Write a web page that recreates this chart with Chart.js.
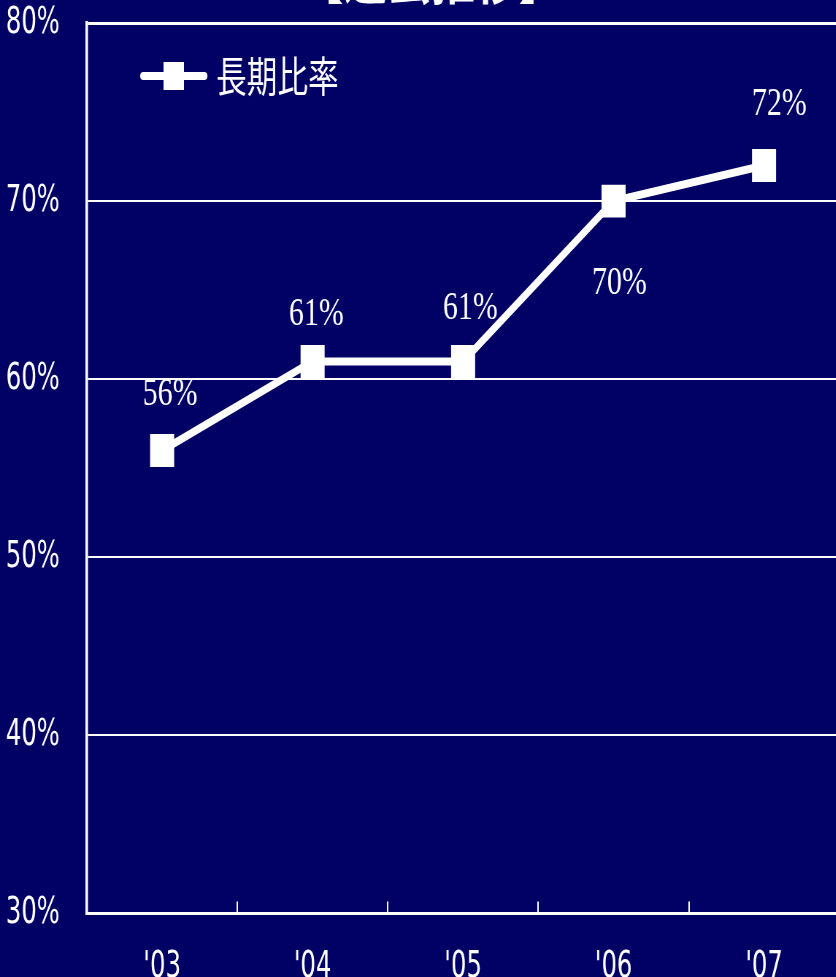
<!DOCTYPE html>
<html lang="ja">
<head>
<meta charset="utf-8">
<title>長期比率</title>
<script src="https://cdn.jsdelivr.net/npm/chart.js@4/dist/chart.umd.min.js"></script>
<style>
  html, body { margin: 0; padding: 0; background: #010064; overflow: hidden; width: 836px; height: 977px; }
  /* chart is drawn wide and squeezed horizontally, like the old slide it comes from */
  #wrap { position: absolute; left: 0; top: -60px; width: 1173px; height: 1102px; transform: scaleX(0.73); transform-origin: 0 0; }
</style>
</head>
<body>
<div id="wrap"><canvas id="ratioChart"></canvas></div>
<script>
const years = ["'03", "'04", "'05", "'06", "'07"];
const longRatio = [56, 61, 61, 70, 72];
const yTicks = [30, 40, 50, 60, 70, 80];

const navy = '#010064';
const narrow = "'DejaVu Sans Condensed', 'Liberation Sans Narrow', sans-serif";

// value labels sit above the markers, except '06 which goes under the line
const labelShift = [
    { dx: 11, dy: -56 },
    { dx: 5, dy: -47 },
    { dx: 10, dy: -53 },
    { dx: 8, dy: 82 },
    { dx: 21, dy: -61 }
];

// legend symbol: line with a square marker in the middle
function legendSymbol() {
    const c = document.createElement('canvas');
    c.width = 142;
    c.height = 40;
    const g = c.getContext('2d');
    const x0 = 142 - 92;
    g.strokeStyle = '#fff';
    g.lineWidth = 8;
    g.lineCap = 'round';
    g.beginPath();
    g.moveTo(x0 + 4, 20);
    g.lineTo(142 - 4, 20);
    g.stroke();
    g.fillStyle = '#fff';
    g.fillRect(x0 + 46 - 14, 6, 28, 28);
    return c;
}

const bgPlugin = {
    id: 'bg',
    beforeDraw(chart) {
        const c = chart.ctx;
        c.save();
        c.fillStyle = navy;
        c.fillRect(0, 0, chart.width, chart.height);
        c.restore();
    }
};

// the chartArea legend comes back with top = 0, pin it to the plot's top-left
const legendInside = {
    id: 'legendInside',
    afterLayout(chart) {
        const lg = chart.legend;
        if (!lg) return;
        const a = chart.chartArea;
        const w = lg.width, h = lg.height;
        lg.left = a.left;
        lg.top = a.top;
        lg.right = a.left + w;
        lg.bottom = a.top + h;
    }
};

const valueLabels = {
    id: 'valueLabels',
    afterDatasetsDraw(chart) {
        const c = chart.ctx;
        const meta = chart.getDatasetMeta(0);
        c.save();
        c.font = "41px 'Liberation Serif', 'DejaVu Serif', serif";
        c.fillStyle = '#fff';
        c.textAlign = 'center';
        c.textBaseline = 'middle';
        meta.data.forEach((pt, i) => {
            const s = labelShift[i];
            c.fillText(longRatio[i] + '%', pt.x + s.dx, pt.y + s.dy);
        });
        c.restore();
    }
};

const ctx = document.getElementById('ratioChart');

new Chart(ctx, {
    type: 'line',
    data: {
        labels: years,
        datasets: [{
            label: '長期比率',
            data: longRatio,
            borderColor: '#fff',
            borderWidth: 8,
            tension: 0,
            pointStyle: 'rect',
            pointRadius: 23.3,
            pointHoverRadius: 23.3,
            pointBackgroundColor: '#fff',
            pointBorderWidth: 0
        }]
    },
    options: {
        responsive: true,
        maintainAspectRatio: false,
        animation: false,
        events: [],
        layout: { padding: { left: 8, right: 0, top: 0, bottom: 8 } },
        plugins: {
            title: {
                display: true,
                text: '【過去推移】',
                color: '#fff',
                font: { family: "'Noto Sans CJK JP', sans-serif", size: 60, weight: 'bold', lineHeight: 1.2 },
                padding: { top: 0, bottom: 11 }
            },
            legend: {
                position: 'chartArea',
                align: 'start',
                labels: {
                    usePointStyle: true,
                    pointStyle: legendSymbol(),
                    pointStyleWidth: 124,
                    padding: 32,
                    color: '#fff',
                    font: { family: "'Noto Sans CJK JP', sans-serif", size: 42 }
                }
            },
            tooltip: { enabled: false }
        },
        scales: {
            x: {
                offset: true,
                grid: {
                    offset: true,
                    drawOnChartArea: false,
                    drawTicks: true,
                    tickLength: -12,
                    color: '#fff',
                    lineWidth: 2
                },
                border: { display: true, color: '#fff', width: 3 },
                ticks: {
                    color: '#fff',
                    padding: 44,
                    font: { family: narrow, size: 37 }
                }
            },
            y: {
                min: 30,
                max: 80,
                afterBuildTicks(scale) {
                    scale.ticks = yTicks.map(v => ({ value: v }));
                },
                afterFit(scale) {
                    scale.width = 111;
                },
                grid: {
                    drawTicks: false,
                    color: '#fff',
                    lineWidth: (c) => (c.tick && c.tick.value === 80 ? 3 : 2)
                },
                border: { display: true, color: '#fff', width: 3.5 },
                ticks: {
                    color: '#fff',
                    padding: 37,
                    font: { family: narrow, size: 37 },
                    callback: (v) => v + '%'
                }
            }
        }
    },
    plugins: [bgPlugin, legendInside, valueLabels]
});
</script>
</body>
</html>
